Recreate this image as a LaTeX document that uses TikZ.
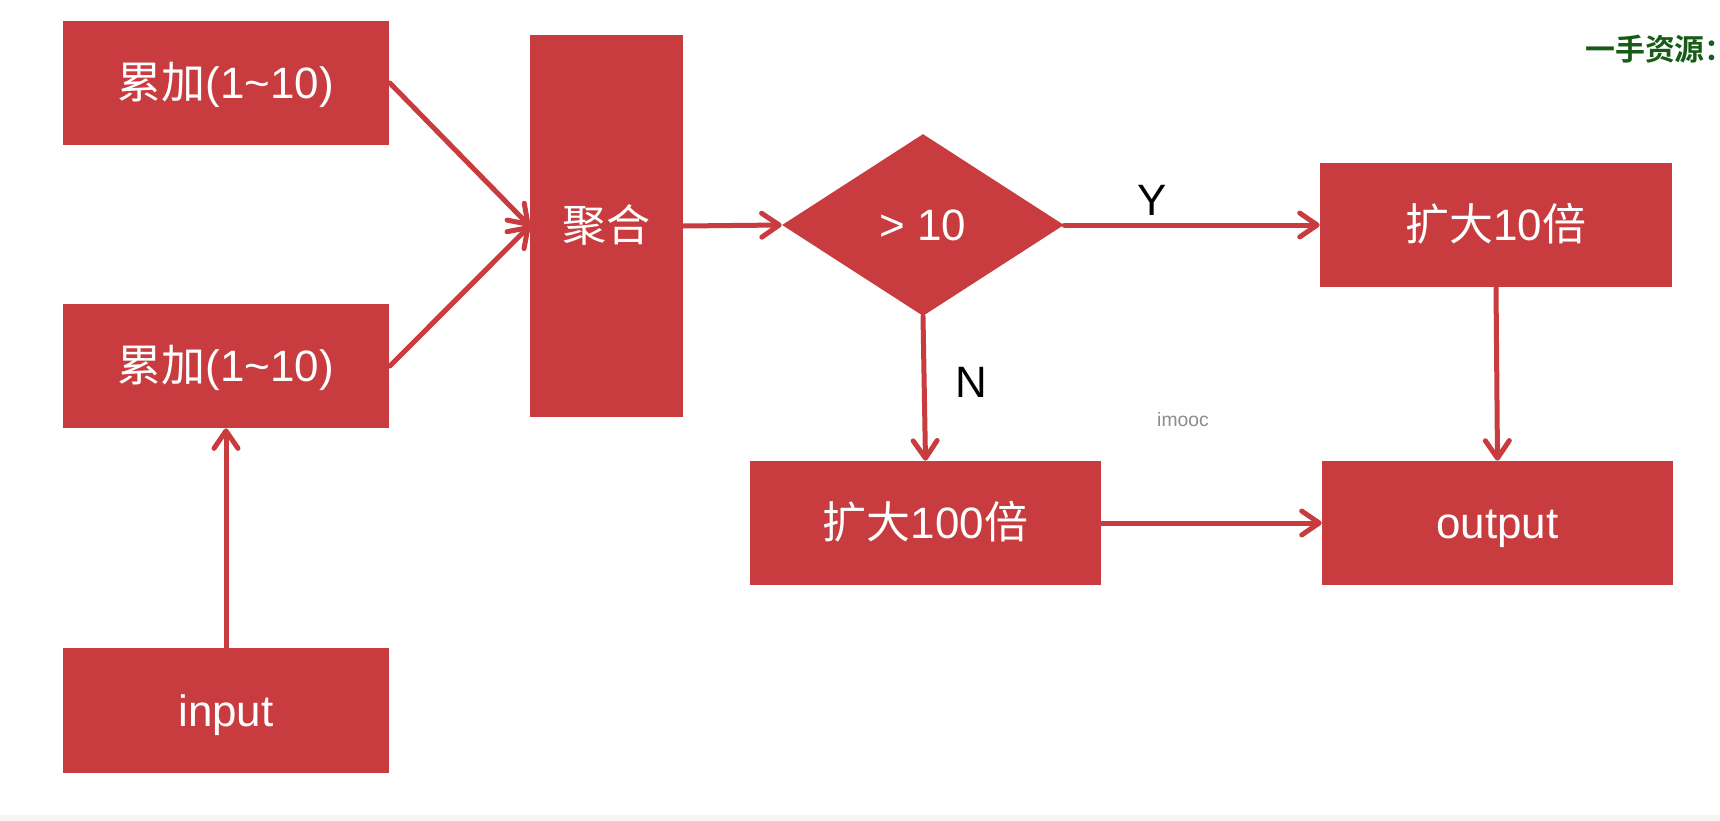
\documentclass[tikz,border=0pt]{standalone}
\usepackage{fontspec}
\setmainfont{Liberation Sans}
\newfontfamily\cjk{Noto Sans CJK SC}
\newfontfamily\cjkb{Noto Sans CJK SC Bold}
\usetikzlibrary{shapes.geometric,arrows.meta}
\definecolor{boxred}{RGB}{200,60,63}
\definecolor{darkgreen}{RGB}{22,92,22}
\begin{document}
\begin{tikzpicture}[x=0.02cm,y=-0.02cm,
  box/.style={fill=boxred, text=white, inner sep=0pt, text height=18pt, text depth=0pt, font=\fontsize{25}{30}\selectfont},
  dec/.style={diamond, fill=boxred, text=white, inner sep=0pt, font=\fontsize{25}{30}\selectfont},
  conn/.style={draw=boxred, line width=0.1cm, line cap=round, -{Straight Barb[length=3.5mm,width=4.8mm,round]}},
  lab/.style={font=\fontsize{25}{30}\selectfont, text=black}
]
\useasboundingbox (0,0) rectangle (1720,821);
\fill[white] (0,0) rectangle (1720,821);
\fill[gray!8] (0,815) rectangle (1720,821);

\node[box, minimum width=6.54cm, minimum height=2.48cm] (a1) at (226,83) {{\cjk 累加}(1\textasciitilde10)};
\node[box, minimum width=6.54cm, minimum height=2.48cm] (a2) at (226,366) {{\cjk 累加}(1\textasciitilde10)};
\node[box, minimum width=6.54cm, minimum height=2.5cm] (in) at (226,710.5) {input};
\node[box, minimum width=3.06cm, minimum height=7.64cm] (agg) at (606.5,226) {\cjk 聚合};
\node[dec, minimum width=5.64cm, minimum height=3.64cm] (dec) at (923,225) {> 10};
\node[box, minimum width=7.04cm, minimum height=2.48cm] (b10) at (1496,225) {{\cjk 扩大}10{\cjk 倍}};
\node[box, minimum width=7.02cm, minimum height=2.48cm] (b100) at (925.5,523) {{\cjk 扩大}100{\cjk 倍}};
\node[box, minimum width=7.02cm, minimum height=2.48cm] (out) at (1497.5,523) {output};

\draw[conn] (a1.east) -- (agg.west);
\draw[conn] (a2.east) -- (agg.west);
\draw[conn] (in.north) -- (a2.south);
\draw[conn] (agg.east) -- (dec.west);
\draw[conn] (dec.east) -- (b10.west);
\draw[conn] (dec.south) -- (b100.north);
\draw[conn] (b10.south) -- (out.north);
\draw[conn] (b100.east) -- (out.west);

\node[lab] (ly) at (1152,200) {Y};
\node[lab] (ln) at (971,382) {N};
\node[font=\fontsize{11}{13}\selectfont, text=gray!90] (wm) at (1183,420) {imooc};
\node[anchor=west, inner sep=0pt, font=\fontsize{17}{20}\selectfont\cjkb, text=darkgreen] (src) at (1585,49) {一手资源：};
\end{tikzpicture}
\end{document}
